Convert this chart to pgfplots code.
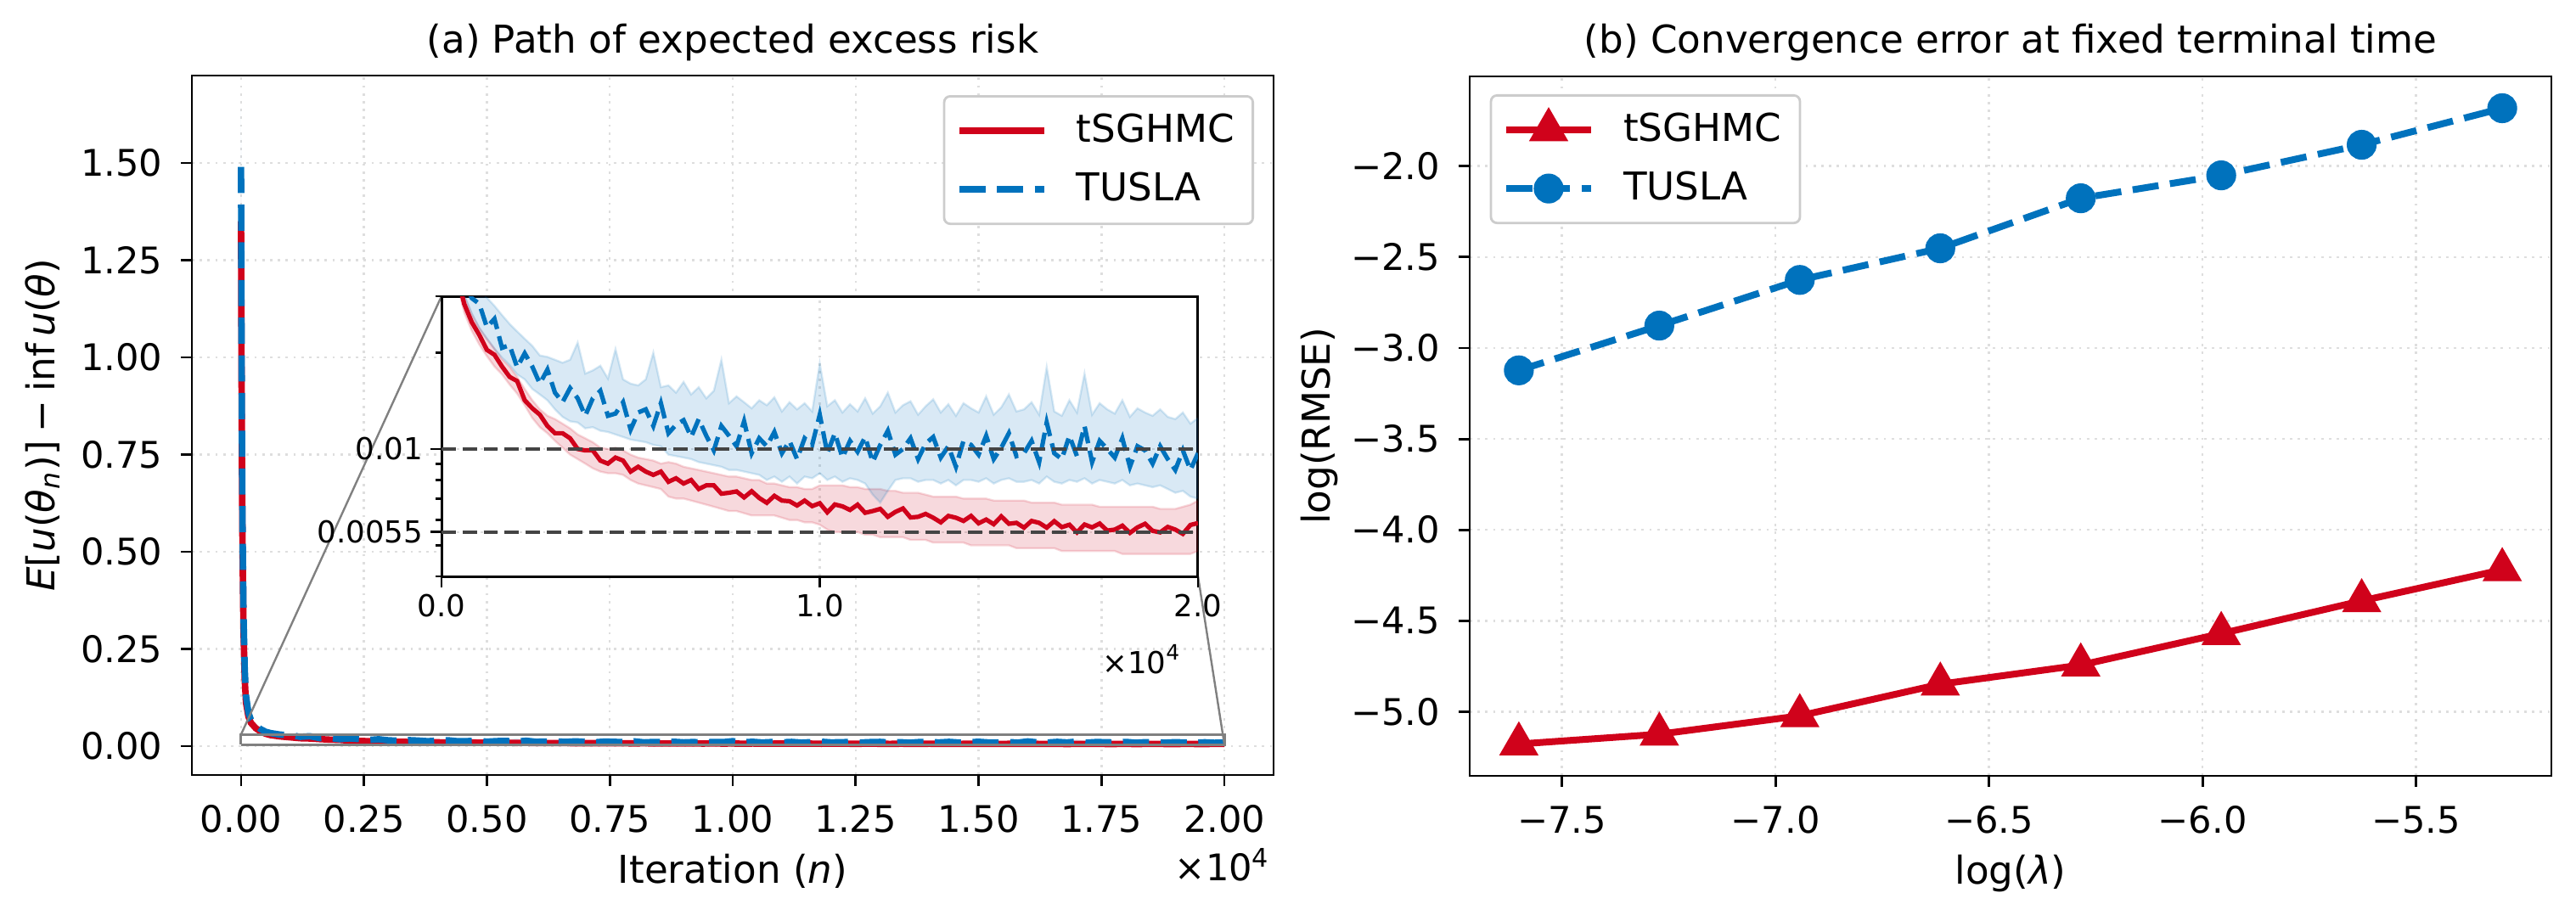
\documentclass[border=0pt]{standalone}
\usepackage{fontspec}
\setmainfont{DejaVu Sans}[ItalicFont={DejaVu Sans Oblique}]
\usepackage{pgfplots}
\pgfplotsset{compat=1.18}
\usepackage{pgfplotstable}

\definecolor{cred}{RGB}{208,2,27}
\definecolor{cblue}{RGB}{0,114,189}
\definecolor{refgray}{RGB}{68,68,68}

\newcommand{\fs}{\fontsize{10.8}{13}\selectfont}   % tick labels
\newcommand{\fl}{\fontsize{11.3}{13.5}\selectfont} % titles, labels, legends
\newcommand{\fsi}{\fontsize{8.9}{10.5}\selectfont} % inset

% iteration, tSGHMC mean / lower / upper, TUSLA mean / lower / upper
\pgfplotstableread{
it r rlo rhi b blo bhi
0 1.350 1.300 1.480 1.490 1.380 1.640
10 0.950 0.905 1.020 1.060 0.975 1.160
20 0.690 0.655 0.740 0.770 0.705 0.850
30 0.510 0.483 0.545 0.575 0.525 0.635
50 0.300 0.284 0.318 0.340 0.310 0.375
75 0.172 0.163 0.183 0.198 0.180 0.218
100 0.112 0.106 0.119 0.130 0.118 0.143
150 0.0760 0.0720 0.0800 0.0860 0.0780 0.0950
200 0.0600 0.0565 0.0635 0.0680 0.0615 0.0750
300 0.0460 0.0435 0.0487 0.0525 0.0475 0.0580
400 0.0375 0.0353 0.0397 0.0435 0.0393 0.0480
500 0.0318 0.0299 0.0337 0.0370 0.0334 0.0412
600 0.0284 0.0267 0.0301 0.0336 0.0302 0.0378
800 0.0249 0.0234 0.0264 0.0296 0.0265 0.0338
1000 0.0227 0.0212 0.0239 0.0284 0.0238 0.0318
1200 0.0204 0.0195 0.0221 0.0240 0.0221 0.0297
1400 0.0197 0.0181 0.0206 0.0255 0.0205 0.0280
1600 0.0181 0.0171 0.0191 0.0207 0.0193 0.0262
1800 0.0168 0.0159 0.0181 0.0211 0.0183 0.0246
2000 0.0163 0.0149 0.0168 0.0180 0.0171 0.0233
2200 0.0142 0.0137 0.0154 0.0199 0.0165 0.0221
2400 0.0134 0.0125 0.0142 0.0181 0.0154 0.0210
2600 0.0128 0.0117 0.0133 0.0160 0.0148 0.0196
2800 0.0118 0.0112 0.0127 0.0177 0.0142 0.0194
3000 0.0112 0.0106 0.0124 0.0150 0.0133 0.0190
3200 0.0112 0.0101 0.0120 0.0140 0.0126 0.0186
3400 0.0108 0.0096 0.0116 0.0155 0.0122 0.0190
3600 0.0100 0.0093 0.0111 0.0144 0.0121 0.0215
3800 0.0099 0.0090 0.0108 0.0127 0.0116 0.0172
4000 0.0099 0.0087 0.0105 0.0144 0.0117 0.0176
4200 0.0092 0.0085 0.0101 0.0152 0.0114 0.0182
4400 0.0090 0.0084 0.0100 0.0127 0.0113 0.0166
4600 0.0094 0.0084 0.0101 0.0129 0.0111 0.0205
4800 0.0092 0.0083 0.0099 0.0140 0.0109 0.0165
5000 0.0085 0.0080 0.0096 0.0115 0.0107 0.0160
5200 0.0088 0.0078 0.0094 0.0130 0.0106 0.0158
5400 0.0085 0.0077 0.0093 0.0133 0.0105 0.0165
5600 0.0083 0.0076 0.0092 0.0118 0.0103 0.0200
5800 0.0085 0.0075 0.0090 0.0139 0.0102 0.0156
6000 0.0079 0.0071 0.0091 0.0112 0.0096 0.0158
6200 0.0081 0.0070 0.0090 0.0119 0.0095 0.0150
6400 0.0078 0.0070 0.0088 0.0123 0.0094 0.0162
6600 0.0080 0.0069 0.0087 0.0109 0.0093 0.0148
6800 0.0075 0.0068 0.0086 0.0124 0.0091 0.0156
7000 0.0077 0.0067 0.0085 0.0110 0.0090 0.0144
7200 0.0077 0.0066 0.0084 0.0099 0.0089 0.0152
7400 0.00725 0.0065 0.0083 0.0118 0.0088 0.0190
7600 0.0073 0.0064 0.0082 0.0110 0.0086 0.0139
7800 0.00737 0.0064 0.0082 0.0102 0.0086 0.0146
8000 0.00706 0.0063 0.0081 0.0122 0.0085 0.0140
8200 0.00738 0.0062 0.0080 0.0097 0.0084 0.0134
8400 0.00703 0.0062 0.0080 0.0108 0.0083 0.0142
8600 0.00679 0.0062 0.0078 0.0102 0.0080 0.0137
8800 0.00714 0.0062 0.0078 0.0113 0.0082 0.0145
9000 0.0069 0.0061 0.0077 0.0097 0.0079 0.0131
9200 0.00687 0.0060 0.0076 0.0106 0.0082 0.0140
9400 0.00666 0.0060 0.0076 0.0093 0.0078 0.0133
9600 0.0069 0.0059 0.0075 0.0108 0.0082 0.0139
9800 0.00663 0.0059 0.0075 0.0103 0.0081 0.0131
10000 0.00677 0.0058 0.0077 0.0128 0.0084 0.0185
10200 0.00634 0.0056 0.0077 0.0097 0.0080 0.0136
10400 0.00671 0.0055 0.0077 0.0112 0.0082 0.0142
10600 0.00662 0.0055 0.0077 0.0094 0.0079 0.0130
10800 0.00645 0.0055 0.0076 0.0106 0.0081 0.0138
11000 0.0067 0.0055 0.0076 0.0098 0.0080 0.0131
11200 0.00632 0.0054 0.0075 0.0109 0.0078 0.0144
11400 0.0064 0.0054 0.0075 0.0091 0.0072 0.0129
11600 0.0065 0.0053 0.0075 0.0103 0.0068 0.0136
11800 0.00614 0.0053 0.0074 0.0114 0.0074 0.0150
12000 0.00636 0.0053 0.0074 0.0096 0.0080 0.0130
12200 0.00652 0.0053 0.0073 0.0100 0.0081 0.0137
12400 0.00611 0.0052 0.0073 0.0108 0.0081 0.0141
12600 0.00614 0.0052 0.0073 0.0093 0.0079 0.0128
12800 0.00627 0.0052 0.0072 0.0104 0.0080 0.0136
13000 0.0061 0.0051 0.0071 0.0109 0.0080 0.0143
13200 0.0059 0.0051 0.0071 0.0094 0.0078 0.0130
13400 0.00618 0.0051 0.0071 0.0102 0.0080 0.0138
13600 0.0061 0.0051 0.0071 0.0088 0.0077 0.0127
13800 0.00596 0.0051 0.0070 0.0106 0.0080 0.0139
14000 0.00618 0.0050 0.0070 0.0103 0.0080 0.0134
14200 0.00586 0.0050 0.0070 0.0096 0.0079 0.0130
14400 0.00602 0.0050 0.0070 0.0110 0.0081 0.0146
14600 0.00582 0.0050 0.0069 0.0093 0.0078 0.0128
14800 0.00616 0.0050 0.0069 0.0101 0.0080 0.0135
15000 0.00584 0.0050 0.0069 0.0112 0.0081 0.0148
15200 0.00588 0.0049 0.0069 0.0095 0.0079 0.0131
15400 0.00568 0.0049 0.0069 0.0097 0.0079 0.0133
15600 0.00596 0.0049 0.0068 0.0106 0.0080 0.0140
15800 0.00588 0.0049 0.0068 0.0091 0.0078 0.0128
16000 0.00568 0.0049 0.0068 0.0121 0.0082 0.0180
16200 0.00595 0.0049 0.0068 0.0097 0.0079 0.0131
16400 0.0057 0.0048 0.0067 0.0093 0.0078 0.0127
16600 0.0058 0.0048 0.0067 0.0110 0.0080 0.0142
16800 0.00549 0.0048 0.0067 0.0095 0.0079 0.0130
17000 0.00581 0.0048 0.0067 0.0118 0.0081 0.0172
17200 0.00569 0.0048 0.0067 0.0091 0.0078 0.0128
17400 0.00585 0.0048 0.0066 0.0106 0.0080 0.0139
17600 0.00556 0.0048 0.0066 0.0100 0.0079 0.0133
17800 0.0056 0.0048 0.0066 0.0094 0.0078 0.0129
18000 0.00576 0.0047 0.0066 0.0108 0.0080 0.0142
18200 0.00547 0.0047 0.0066 0.0088 0.0077 0.0126
18400 0.00569 0.0047 0.0066 0.0102 0.0078 0.0134
18600 0.00584 0.0047 0.0066 0.0099 0.0077 0.0130
18800 0.00555 0.0047 0.0066 0.0090 0.0076 0.0127
19000 0.00549 0.0047 0.0065 0.0102 0.0077 0.0133
19200 0.00571 0.0047 0.0065 0.0093 0.0075 0.0126
19400 0.0056 0.0047 0.0065 0.0086 0.0073 0.0124
19600 0.00543 0.0047 0.0066 0.0099 0.0074 0.0130
19800 0.00579 0.0047 0.0067 0.0086 0.0071 0.0120
20000 0.00587 0.0048 0.0069 0.0097 0.0070 0.0125
}\riskdata

% band outlines: rows in order (upper edge) followed by the same rows reversed (lower edge)
\pgfplotstablegetrowsof{\riskdata}
\edef\nrisk{\pgfplotsretval}
\pgfplotstablesort[sort key=it, sort cmp=float >]{\riskrev}{\riskdata}
\pgfplotstablevertcat{\riskband}{\riskdata}
\pgfplotstablevertcat{\riskband}{\riskrev}

% log(step size) against log(RMSE)
\pgfplotstableread{
loglam tsghmc tusla
-7.6009 -5.177 -3.123
-7.2720 -5.123 -2.877
-6.9431 -5.022 -2.626
-6.6141 -4.848 -2.452
-6.2852 -4.743 -2.177
-5.9563 -4.570 -2.051
-5.6274 -4.390 -1.883
-5.2983 -4.219 -1.682
}\rmsedata

\pgfplotsset{
  panel/.style={
    scale only axis, width=318.5pt, height=206pt, anchor=south west,
    axis line style={line width=0.7pt, black},
    tick align=outside, xtick pos=left, ytick pos=left,
    major tick length=3.3pt,
    every tick/.style={black, line width=0.7pt},
    scaled x ticks=false, scaled y ticks=false,
    grid=major,
    major grid style={draw=black!13, line width=0.6pt, dash pattern=on 0.7pt off 1.6pt},
    tick label style={font=\fs},
    xticklabel style={anchor=base, yshift=-13.45pt},
    yticklabel style={anchor=east, inner sep=0pt, xshift=-5.2pt},
    title style={font=\fl, anchor=base, yshift=0.75pt},
    xlabel style={font=\fl, at={(axis description cs:0.5,0)}, anchor=base, yshift=-31.75pt},
    ylabel style={font=\fl, at={(axis description cs:-0.138,0.5)}, anchor=center},
    legend cell align=left,
    legend image code/.code={\draw[mark repeat=2,mark phase=2,##1] plot coordinates {(0pt,0pt) (12.5pt,0pt) (25pt,0pt)};},
    legend style={font=\fl, draw=black!20, line width=0.7pt, rounded corners=1.8pt, fill=white,
      inner xsep=3.5pt, inner ysep=1.5pt, column sep=6.5pt,
      nodes={inner xsep=2pt, inner ysep=3.7pt}},
  },
}

\begin{document}
\begin{tikzpicture}
\useasboundingbox (0,0) rectangle (758.5pt,271pt);

% ---------- (a) excess risk along the iterations ----------
\begin{axis}[panel, name=main, at={(56.5pt,42.75pt)},
  xmin=-1000, xmax=21000, ymin=-0.0742, ymax=1.7249,
  xtick={0,2500,5000,7500,10000,12500,15000,17500,20000},
  xticklabels={0.00,0.25,0.50,0.75,1.00,1.25,1.50,1.75,2.00},
  ytick={0,0.25,0.5,0.75,1,1.25,1.5},
  yticklabels={0.00,0.25,0.50,0.75,1.00,1.25,1.50},
  title={(a) Path of expected excess risk},
  xlabel={Iteration (\textit{n})},
  ylabel={\textit{E}[\textit{u}(\textit{θ}\textsubscript{\textit{n}})]\kern0.22em−\kern0.22em inf\kern0.17em\textit{u}(\textit{θ})},
  legend style={at={(1,1)}, anchor=north east, xshift=-5.75pt, yshift=-5.75pt},
]
  \addplot[fill=cred, fill opacity=0.15, draw=none, forget plot]
    table[x=it, y expr={\coordindex<\nrisk ? \thisrow{rhi} : \thisrow{rlo}}] {\riskband};
  \addplot[fill=cblue, fill opacity=0.15, draw=none, forget plot]
    table[x=it, y expr={\coordindex<\nrisk ? \thisrow{bhi} : \thisrow{blo}}] {\riskband};
  \addplot[cred, line width=1.9pt] table[x=it, y=r] {\riskdata};
  \addlegendentry{tSGHMC}
  \addplot[cblue, line width=1.9pt, dash pattern=on 7.7pt off 3.4pt] table[x=it, y=b] {\riskdata};
  \addlegendentry{TUSLA}
  % zoomed window
  \addplot[gray, line width=0.75pt, forget plot] coordinates {(0,0.004) (20000,0.004) (20000,0.03) (0,0.03) (0,0.004)};
  \coordinate (zTL) at (axis cs:0,0.03);
  \coordinate (zBR) at (axis cs:20000,0.004);
  \coordinate (mainSE) at (axis cs:21000,-0.0742);
\end{axis}
\node[anchor=base east, inner sep=0pt, font=\fs] at ([xshift=-0.75pt, yshift=-31pt]mainSE) {×10\textsuperscript{4}};

\draw[gray, line width=0.6pt] (zTL) -- (130pt,183.75pt);
\draw[gray, line width=0.6pt] (zBR) -- (352.75pt,101.25pt);

% ---------- inset: log scale close-up ----------
\begin{axis}[name=inset, at={(130pt,101.25pt)}, anchor=south west,
  scale only axis, width=222.75pt, height=82.5pt,
  axis background/.style={fill=white},
  axis line style={line width=0.75pt, black},
  tick align=outside, xtick pos=left, ytick pos=left,
  major tick length=3.3pt, minor tick length=1.75pt,
  every tick/.style={black, line width=0.7pt},
  scaled x ticks=false,
  xmin=0, xmax=20000, ymode=log, ymin=0.004, ymax=0.03,
  xtick={0,10000,20000}, xticklabels={0.0,1.0,2.0},
  ytick={0.0055,0.01}, yticklabels={0.0055,0.01},
  minor ytick={0.004,0.005,0.006,0.007,0.008,0.009,0.02,0.03},
  grid=major,
  major grid style={draw=black!13, line width=0.6pt, dash pattern=on 0.7pt off 1.6pt},
  tick label style={font=\fsi},
  xticklabel style={anchor=base, yshift=-8.6pt},
  yticklabel style={anchor=east, inner sep=0pt, xshift=-1.95pt},
]
  \addplot[fill=cred, fill opacity=0.15, draw=cred, draw opacity=0.15, line width=0.6pt]
    table[x=it, y expr={\coordindex<\nrisk ? \thisrow{rhi} : \thisrow{rlo}}] {\riskband};
  \addplot[fill=cblue, fill opacity=0.15, draw=cblue, draw opacity=0.15, line width=0.6pt]
    table[x=it, y expr={\coordindex<\nrisk ? \thisrow{bhi} : \thisrow{blo}}] {\riskband};
  \addplot[cred, line width=1.3pt] table[x=it, y=r] {\riskdata};
  \addplot[cblue, line width=1.3pt, dash pattern=on 5pt off 2.2pt] table[x=it, y=b] {\riskdata};
  \addplot[refgray, line width=1pt, dash pattern=on 4.2pt off 2pt] coordinates {(0,0.01) (20000,0.01)};
  \addplot[refgray, line width=1pt, dash pattern=on 4.2pt off 2pt] coordinates {(0,0.0055) (20000,0.0055)};
  \coordinate (insetSE) at (axis cs:20000,0.004);
\end{axis}
\node[anchor=base east, inner sep=0pt, font=\fsi] at ([xshift=-4.75pt, yshift=-28.5pt]insetSE) {×10\textsuperscript{4}};

% ---------- (b) error against step size ----------
\begin{axis}[panel, name=right, at={(432.75pt,42.5pt)},
  xmin=-7.716, xmax=-5.1832, ymin=-5.352, ymax=-1.507,
  xtick={-7.5,-7,-6.5,-6,-5.5},
  xticklabels={−7.5,−7.0,−6.5,−6.0,−5.5},
  ytick={-5,-4.5,-4,-3.5,-3,-2.5,-2},
  yticklabels={−5.0,−4.5,−4.0,−3.5,−3.0,−2.5,−2.0},
  title={(b) Convergence error at fixed terminal time},
  xlabel={log(\textit{λ})},
  ylabel={log(RMSE)},
  ylabel style={at={(axis description cs:-0.139,0.5)}},
  legend style={at={(0,1)}, anchor=north west, xshift=5.9pt, yshift=-5.25pt},
]
  \addplot[cred, line width=2pt, mark=triangle*, mark size=4.7pt, mark options={solid}] table[x=loglam, y=tsghmc] {\rmsedata};
  \addlegendentry{tSGHMC}
  \addplot[cblue, line width=2pt, dash pattern=on 7.7pt off 3.4pt, mark=*, mark size=3.4pt, mark options={solid}] table[x=loglam, y=tusla] {\rmsedata};
  \addlegendentry{TUSLA}
\end{axis}
\end{tikzpicture}
\end{document}
